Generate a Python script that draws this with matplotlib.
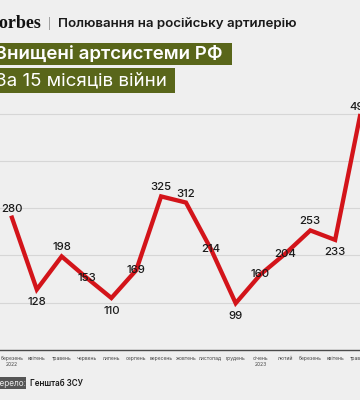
# %%
import matplotlib.pyplot as plt
from matplotlib.patches import Rectangle

plt.rcParams['font.family'] = ['Inter', 'DejaVu Sans']

# дані: знищені артсистеми РФ по місяцях
months = ['березень', 'квітень', 'травень', 'червень', 'липень', 'серпень', 'вересень',
          'жовтень', 'листопад', 'грудень', 'січень', 'лютий', 'березень', 'квітень', 'травень']
years = ['2022', '', '', '', '', '', '', '', '', '', '2023', '', '', '', '']
values = [280, 128, 198, 153, 110, 169, 325, 312, 214, 99, 160, 204, 253, 233, 495]
label_pos = ['up', 'down', 'up', 'mid', 'down', 'mid', 'up', 'up', 'mid', 'down',
             'mid', 'mid', 'up', 'down', 'up']

W, H = 360, 400
bg = '#efefef'
olive = '#59661a'
red = '#d3141a'


def fx(px):
    return px / W


def fy(py):
    return 1 - py / H


fig = plt.figure(figsize=(3.6, 4.0), dpi=100, facecolor=bg)

# %%
# шапка
fig.text(fx(-11), fy(23), 'Forbes', family='Liberation Serif', fontweight='bold',
         fontsize=13, color='#111', va='center', ha='left')
fig.text(fx(48), fy(24), '|', fontsize=7, color='#888', va='center', ha='left')
fig.text(fx(58), fy(24), 'Полювання на російську артилерію', fontsize=9.6,
         fontweight='semibold', color='#1a1a1a', va='center', ha='left')

fig.add_artist(Rectangle((fx(0), fy(65)), fx(232), 22 / H, transform=fig.transFigure,
                         facecolor=olive, edgecolor='none'))
fig.add_artist(Rectangle((fx(0), fy(93)), fx(175), 25 / H, transform=fig.transFigure,
                         facecolor=olive, edgecolor='none'))
fig.text(fx(-5), fy(54.5), 'Знищені артсистеми РФ', fontsize=13.5, fontweight='semibold',
         color='white', va='center', ha='left')
fig.text(fx(-5), fy(80.5), 'За 15 місяців війни', fontsize=13.5, fontweight='normal',
         color='white', va='center', ha='left')

# %%
# графік
ax = fig.add_axes([0, fy(350), 1, 250 / H])
ax.set_facecolor(bg)
x = list(range(len(values)))
ax.plot(x, values, color=red, lw=3.1, solid_joinstyle='miter', zorder=3)
ax.set_xlim(-0.48, 13.92)
ax.set_ylim(0, 529)

for yv in [100, 200, 300, 400, 500]:
    ax.axhline(yv, color='#d6d6d6', lw=0.8, zorder=1)

offsets = {'up': 6.5, 'down': -9, 'mid': 0}
for xi, v, p in zip(x, values, label_pos):
    ax.annotate(str(v), (xi, v), xytext=(0, offsets[p]), textcoords='offset points',
                ha='center', va='center', fontsize=8.2, fontweight='medium',
                color='#1a1a1a', zorder=4)

for s in ['top', 'left', 'right']:
    ax.spines[s].set_visible(False)
ax.spines['bottom'].set_color('#4a4a4a')
ax.spines['bottom'].set_linewidth(1)
ax.set_yticks([])
ax.set_xticks(x)
ax.set_xticklabels([m + ('\n' + y if y else '') for m, y in zip(months, years)],
                   fontsize=3.6, color='#444', va='top', linespacing=1.3)
ax.tick_params(axis='x', length=0, pad=4)

# %%
# джерело
fig.add_artist(Rectangle((fx(0), fy(389)), fx(26), 12 / H, transform=fig.transFigure,
                         facecolor='#555555', edgecolor='none'))
fig.text(fx(-13), fy(383), 'Джерело:', fontsize=6, color='#e8e8e8', va='center', ha='left')
fig.text(fx(30), fy(383), 'Генштаб ЗСУ', fontsize=5.8, fontweight='semibold', color='#1a1a1a',
         va='center', ha='left')

fig.savefig('out.png', dpi=100, facecolor=bg)
